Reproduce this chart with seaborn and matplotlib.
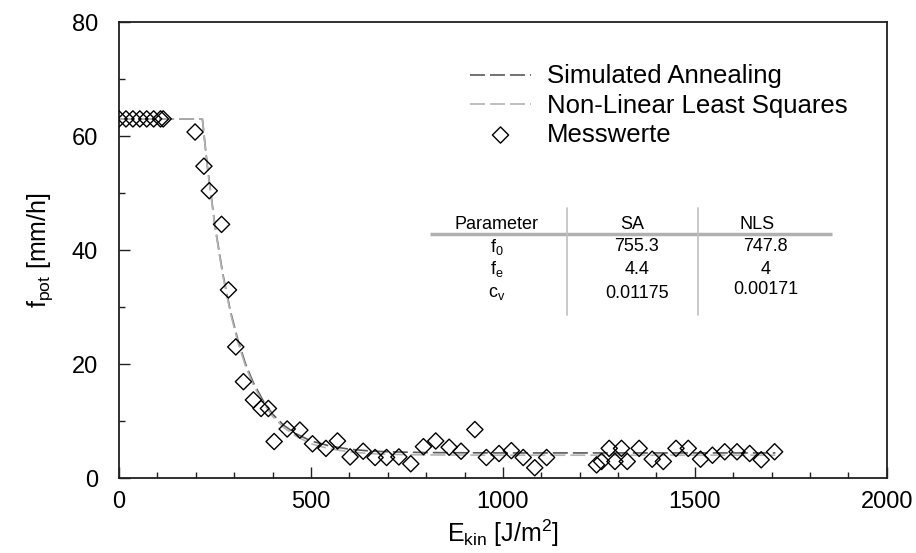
import matplotlib
matplotlib.use('Agg')
import matplotlib.pyplot as plt
import seaborn as sns
import pandas as pd

# Messwerte (E_kin in J/m^2, f_pot in mm/h)
mess_x = [0, 18, 36, 54, 72, 90, 108, 115,
          198, 221, 235, 267, 285, 304, 324, 350, 370, 389, 404, 438, 471,
          504, 539, 569, 602, 636, 667, 697, 729, 760, 793, 825, 860, 891,
          927, 957, 990, 1022, 1053, 1083, 1114,
          1244, 1257, 1277, 1292, 1309, 1324, 1355, 1389, 1418, 1451, 1483,
          1515, 1546, 1578, 1610, 1643, 1673, 1708]
mess_y = [63, 63, 63, 63, 63, 63, 63, 63,
          60.7, 54.7, 50.4, 44.5, 33.0, 23.0, 16.9, 13.7, 12.2, 12.2, 6.4, 8.6, 8.4,
          6.0, 5.2, 6.5, 3.7, 4.7, 3.6, 3.6, 3.7, 2.5, 5.5, 6.5, 5.4, 4.7,
          8.5, 3.6, 4.3, 4.8, 3.6, 1.8, 3.6,
          2.3, 2.9, 5.2, 2.9, 5.2, 2.9, 5.2, 3.3, 2.9, 5.2, 5.2,
          3.3, 4.0, 4.6, 4.6, 4.3, 3.2, 4.6]

# Kurven
kurve_x = [0, 100, 200, 217, 230, 250, 270, 290, 310, 330, 350, 375, 400,
           430, 460, 500, 550, 600, 650, 700, 800, 1000, 1200, 1400, 1710]
sa_y = [63, 63, 63, 63, 54.7, 44.2, 35.9, 29.3, 24.1, 19.9, 16.7, 13.6, 11.2,
        9.2, 7.8, 6.5, 5.6, 5.05, 4.76, 4.6, 4.46, 4.4, 4.4, 4.4, 4.4]
nls_y = [63, 63, 63, 63, 54.5, 44.0, 35.6, 29.0, 23.7, 19.5, 16.3, 13.2, 10.8,
         8.8, 7.4, 6.0, 5.1, 4.6, 4.3, 4.15, 4.05, 4.0, 4.0, 4.0, 4.0]

# Parametertabelle
param_namen = ['f$_0$', 'f$_e$', 'c$_v$']
sa_werte = ['755.3', '4.4', '0.01175']
nls_werte = ['747.8', '4', '0.00171']

sns.set_theme(style='ticks')
plt.rcParams['font.family'] = ['Liberation Sans', 'DejaVu Sans']
plt.rcParams['mathtext.fontset'] = 'custom'
plt.rcParams['mathtext.rm'] = 'Liberation Sans'
plt.rcParams['mathtext.it'] = 'Liberation Sans'
plt.rcParams['text.color'] = 'black'
plt.rcParams['axes.labelcolor'] = 'black'
plt.rcParams['xtick.labelcolor'] = 'black'
plt.rcParams['ytick.labelcolor'] = 'black'

df_mess = pd.DataFrame({'x': mess_x, 'y': mess_y})
df_kurve = pd.DataFrame({'x': kurve_x, 'sa': sa_y, 'nls': nls_y})

fig = plt.figure(figsize=(9.16, 5.53), dpi=100)
ax = fig.add_axes([0.130, 0.1356, 0.838, 0.8246])

sns.lineplot(data=df_kurve, x='x', y='sa', ax=ax, color='#5a5a5a', lw=1.2,
             dashes=False, sort=False, label='Simulated Annealing')
sns.lineplot(data=df_kurve, x='x', y='nls', ax=ax, color='#b4b4b4', lw=1.2,
             dashes=False, sort=False, label='Non-Linear Least Squares')
ax.lines[0].set_dashes([9, 3])
ax.lines[1].set_dashes([9, 3])
sns.scatterplot(data=df_mess, x='x', y='y', ax=ax, marker='D', s=68,
                facecolor='none', edgecolor='black', linewidth=1.0,
                label='Messwerte', zorder=3)

ax.set_xlim(0, 2000)
ax.set_ylim(0, 80)
ax.set_xticks([0, 500, 1000, 1500, 2000])
ax.set_xticks(range(0, 2001, 100), minor=True)
ax.set_yticks([0, 20, 40, 60, 80])
ax.set_yticks(range(0, 81, 10), minor=True)
ax.tick_params(which='both', direction='in', width=1.0, color='#202020')
ax.tick_params(which='major', length=8)
ax.tick_params(which='minor', length=4.5)
ax.tick_params(axis='x', which='major', pad=9, labelsize=17, labelcolor='black')
ax.tick_params(axis='y', which='major', pad=15, labelsize=17, labelcolor='black')
for sp in ax.spines.values():
    sp.set_linewidth(1.3)
    sp.set_color('#202020')

ax.set_xlabel('E$_{\\rm kin}$ [J/m$^2$]', fontsize=18, labelpad=4, color='black')
ax.set_ylabel('f$_{\\rm pot}$ [mm/h]', fontsize=18, labelpad=12, color='black')

leg = ax.legend(loc='upper left', bbox_to_anchor=(0.44, 0.935), frameon=False,
                fontsize=18.5, handlelength=2.4, handletextpad=0.6,
                labelspacing=0.2, borderpad=0)
for t in leg.get_texts():
    t.set_color('black')

# Tabelle
kopf_y = 44.4
zeilen_y = [40.6, 36.6, 32.4]
ax.text(984, kopf_y, 'Parameter', ha='center', va='center', fontsize=13)
ax.text(1336, kopf_y, 'SA', ha='center', va='center', fontsize=13)
ax.text(1661, kopf_y, 'NLS', ha='center', va='center', fontsize=13)
ax.plot([810, 1857], [42.8, 42.8], color='#b0b0b0', lw=2.5, solid_capstyle='butt')
for xv in [1167, 1508]:
    ax.plot([xv, xv], [28.6, 47.4], color='#c0c0c0', lw=1.2)
for i in range(3):
    ax.text(984, zeilen_y[i], param_namen[i], ha='center', va='center', fontsize=13)
    ax.text(1349, zeilen_y[i], sa_werte[i], ha='center', va='center', fontsize=13)
    dy = 0.6 if i == 2 else 0
    ax.text(1685, zeilen_y[i] + dy, nls_werte[i], ha='center', va='center', fontsize=13)

fig.savefig('out.png', dpi=100)
